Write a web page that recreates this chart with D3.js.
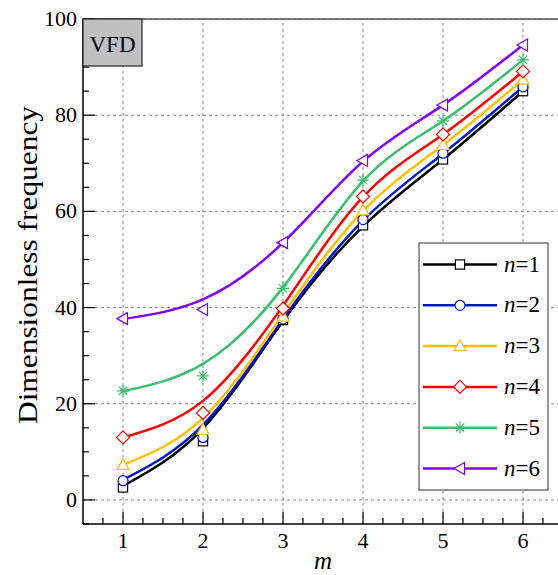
<!DOCTYPE html>
<html>
<head>
<meta charset="utf-8">
<script src="https://cdn.jsdelivr.net/npm/d3@7"></script>
<style>
  body { margin: 0; background: #fff; }
</style>
</head>
<body>
<div id="chart"></div>
<script>
var chart_width  = 558;
var chart_height = 575;
var serif = "'Liberation Serif', 'DejaVu Serif', serif";

// data
var mValues = [1, 2, 3, 4, 5, 6];
var seriesNames = ["1", "2", "3", "4", "5", "6"];
// measured points (markers)
var pts1 = [2.6, 12.2, 37.4, 57.1, 70.8, 85.0];
var pts2 = [4.0, 13.0, 37.6, 58.3, 72.1, 85.9];
var pts3 = [7.3, 14.6, 38.1, 60.2, 73.8, 87.4];
var pts4 = [13.0, 18.1, 39.8, 63.1, 76.0, 89.1];
var pts5 = [22.7, 25.8, 44.0, 66.5, 78.8, 91.5];
var pts6 = [37.7, 39.6, 53.5, 70.6, 82.1, 94.6];
// fitted curve values (lines)
var fit1 = [2.9, 14.9, 37.2, 56.9, 70.8, 85.0];
var fit2 = [4.2, 15.6, 37.6, 58.1, 72.0, 85.9];
var fit3 = [7.3, 17.0, 38.6, 60.1, 73.8, 87.4];
var fit4 = [13.0, 20.6, 40.4, 63.0, 76.0, 89.1];
var fit5 = [22.6, 28.3, 44.2, 66.3, 78.8, 91.5];
var fit6 = [37.6, 41.7, 53.5, 70.4, 82.1, 94.6];

var colors  = ["#000000", "#0019c8", "#ffc000", "#ff0000", "#3cbe6e", "#8000ff"];
var markers = ["square", "circle", "triangleUp", "diamond", "asterisk", "triangleLeft"];
var yTicks = [0, 20, 40, 60, 80, 100];
var xTicks = [1, 2, 3, 4, 5, 6];

var allPts = [pts1, pts2, pts3, pts4, pts5, pts6];
var allFit = [fit1, fit2, fit3, fit4, fit5, fit6];

var x = d3.scaleLinear().domain([0.5, 6.5]).range([83, 563]);
var y = d3.scaleLinear().domain([-5, 100]).range([524, 19]);

var svg = d3.select("#chart")
  .append("svg")
  .attr("width", chart_width)
  .attr("height", chart_height)
  .style("font-family", serif);

// grid
var grid = svg.append("g");
grid.selectAll(".gx")
  .data(xTicks)
  .enter()
  .append("line")
  .attr("x1", d => x(d)).attr("x2", d => x(d))
  .attr("y1", y(-5)).attr("y2", y(100))
  .attr("stroke", "#8c8c8c").attr("stroke-width", 1)
  .attr("stroke-dasharray", "3,3");
grid.selectAll(".gy")
  .data(yTicks)
  .enter()
  .append("line")
  .attr("x1", x(0.5)).attr("x2", x(6.5))
  .attr("y1", d => y(d)).attr("y2", d => y(d))
  .attr("stroke", "#8c8c8c").attr("stroke-width", 1)
  .attr("stroke-dasharray", "3,3");

// curves
var line = d3.line()
  .x((d, i) => x(mValues[i]))
  .y(d => y(d))
  .curve(d3.curveNatural);

svg.append("g").selectAll("path")
  .data(allFit)
  .enter()
  .append("path")
  .attr("d", line)
  .attr("fill", "none")
  .attr("stroke", (d, i) => colors[i])
  .attr("stroke-width", 2.5);

// markers
function drawMarker(g, type, color) {
  var s = 4.6;
  if (type === "square") {
    g.append("rect").attr("x", -s).attr("y", -s).attr("width", 2 * s).attr("height", 2 * s)
      .attr("fill", "#fff").attr("stroke", color).attr("stroke-width", 1.2);
  } else if (type === "circle") {
    g.append("circle").attr("r", 5)
      .attr("fill", "#fff").attr("stroke", color).attr("stroke-width", 1.2);
  } else if (type === "triangleUp") {
    g.append("path").attr("d", "M0,-6L6,4.5L-6,4.5Z")
      .attr("fill", "#fff").attr("stroke", color).attr("stroke-width", 1.2);
  } else if (type === "diamond") {
    g.append("path").attr("d", "M0,-6.5L6.5,0L0,6.5L-6.5,0Z")
      .attr("fill", "#fff").attr("stroke", color).attr("stroke-width", 1.2);
  } else if (type === "asterisk") {
    var r = 6;
    g.append("path")
      .attr("d", "M0," + (-r) + "L0," + r + "M" + (-r) + ",0L" + r + ",0" +
        "M-4.2,-4.2L4.2,4.2M-4.2,4.2L4.2,-4.2")
      .attr("fill", "none").attr("stroke", color).attr("stroke-width", 1.2);
  } else if (type === "triangleLeft") {
    g.append("path").attr("d", "M-6,0L4.5,-6L4.5,6Z")
      .attr("fill", "#fff").attr("stroke", color).attr("stroke-width", 1.2);
  }
}

allPts.forEach(function (arr, si) {
  arr.forEach(function (v, i) {
    var g = svg.append("g").attr("transform", "translate(" + x(mValues[i]) + "," + y(v) + ")");
    drawMarker(g, markers[si], colors[si]);
  });
});

// axes
var axisG = svg.append("g");
axisG.append("line").attr("x1", 83).attr("x2", 558).attr("y1", y(100)).attr("y2", y(100))
  .attr("stroke", "#555").attr("stroke-width", 1.5);
axisG.append("line").attr("x1", 83).attr("x2", 83).attr("y1", y(100)).attr("y2", y(-5))
  .attr("stroke", "#000").attr("stroke-width", 1.5);
axisG.append("line").attr("x1", 83).attr("x2", 558).attr("y1", y(-5)).attr("y2", y(-5))
  .attr("stroke", "#000").attr("stroke-width", 1.5);

// y ticks (inward)
d3.range(-5, 100.1, 5).forEach(function (v) {
  var major = v % 20 === 0;
  axisG.append("line")
    .attr("x1", 83).attr("x2", 83 + (major ? 12 : 6))
    .attr("y1", y(v)).attr("y2", y(v))
    .attr("stroke", "#000").attr("stroke-width", 1.2);
});
// x ticks (inward)
d3.range(0.75, 6.5, 0.25).forEach(function (v) {
  var major = Math.abs(v - Math.round(v)) < 1e-6;
  axisG.append("line")
    .attr("x1", x(v)).attr("x2", x(v))
    .attr("y1", y(-5)).attr("y2", y(-5) - (major ? 12 : 6))
    .attr("stroke", "#000").attr("stroke-width", 1.2);
});

axisG.selectAll(".ytl")
  .data(yTicks)
  .enter()
  .append("text")
  .attr("x", 77).attr("y", d => y(d) + 7)
  .attr("text-anchor", "end")
  .attr("font-size", 22)
  .text(d => d);

axisG.selectAll(".xtl")
  .data(xTicks)
  .enter()
  .append("text")
  .attr("x", d => x(d)).attr("y", 548)
  .attr("text-anchor", "middle")
  .attr("font-size", 22)
  .text(d => d);

// axis titles
svg.append("text")
  .attr("x", 323).attr("y", 569)
  .attr("text-anchor", "middle")
  .attr("font-size", 25)
  .attr("font-style", "italic")
  .text("m");

svg.append("text")
  .attr("transform", "translate(37," + 265 + ") rotate(-90)")
  .attr("text-anchor", "middle")
  .attr("font-size", 28)
  .attr("textLength", 318)
  .attr("lengthAdjust", "spacingAndGlyphs")
  .text("Dimensionless frequency");

// VFD box
svg.append("rect")
  .attr("x", 83).attr("y", 19).attr("width", 59).attr("height", 47)
  .attr("fill", "#c0c0c0").attr("stroke", "#222").attr("stroke-width", 1.2);
svg.append("text")
  .attr("x", 112.5).attr("y", 52)
  .attr("text-anchor", "middle")
  .attr("font-size", 23)
  .text("VFD");

// legend
var legend = svg.append("g");
legend.append("rect")
  .attr("x", 419).attr("y", 243).attr("width", 129).attr("height", 247)
  .attr("fill", "#fff").attr("stroke", "#555").attr("stroke-width", 1.2);

seriesNames.forEach(function (name, i) {
  var ly = 264.5 + i * 40.8;
  legend.append("line")
    .attr("x1", 423).attr("x2", 497).attr("y1", ly).attr("y2", ly)
    .attr("stroke", colors[i]).attr("stroke-width", 2.5);
  var g = legend.append("g").attr("transform", "translate(460," + ly + ")");
  drawMarker(g, markers[i], colors[i]);
  var t = legend.append("text")
    .attr("x", 504).attr("y", ly + 7)
    .attr("font-size", 23);
  t.append("tspan").attr("font-style", "italic").text("n");
  t.append("tspan").text("=" + name);
});
</script>
</body>
</html>
